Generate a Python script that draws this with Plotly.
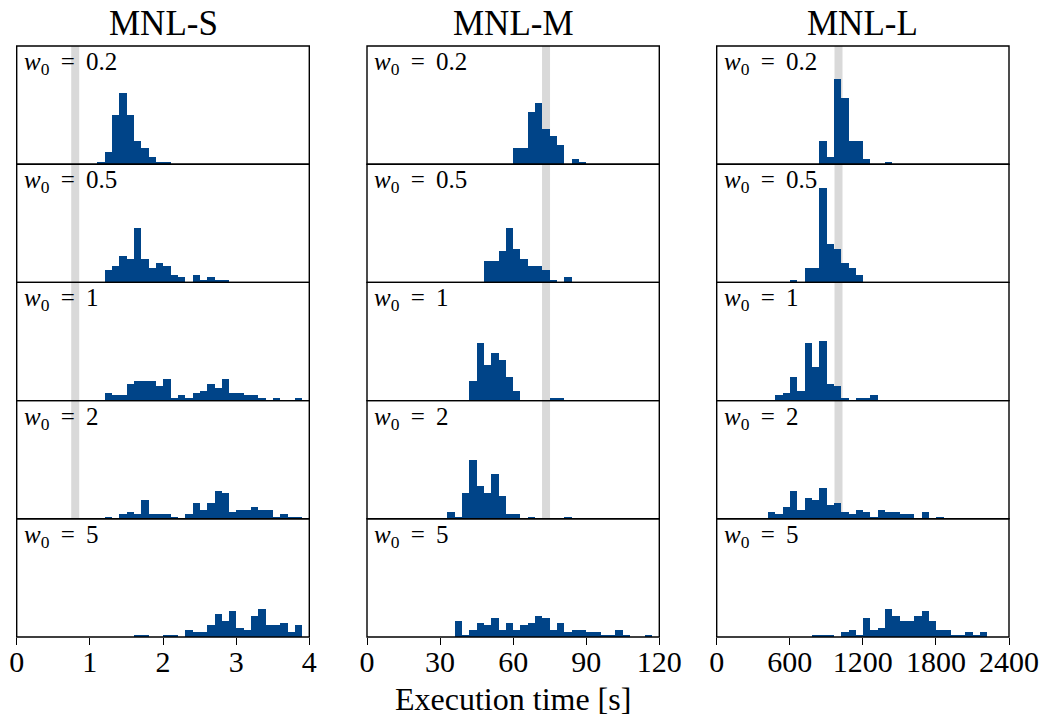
import plotly.graph_objects as go

# ---------------- data ----------------
models = ["MNL-S", "MNL-M", "MNL-L"]
w0_labels = ["0.2", "0.5", "1", "2", "5"]

# histogram bin widths (s) per model
bin_width = [0.1, 3, 60]
# reference (grey) execution time per model
reference_time = [0.8, 73.5, 1000]
# x-axis ranges and ticks per model
x_max = [4, 120, 2400]
x_ticks = [[0, 1, 2, 3, 4], [0, 30, 60, 90, 120], [0, 600, 1200, 1800, 2400]]

# first bin left edge per (model, w0)
s_bin_start = [1.1, 1.2, 1.2, 1.2, 1.2]
m_bin_start = [60, 48, 42, 33, 36]
l_bin_start = [840, 600, 480, 420, 780]

# counts per bin, MNL-S
s_w02 = [1, 5, 21, 30, 21, 10, 7, 3, 1, 1]
s_w05 = [5, 7, 11, 10, 23, 10, 6, 8, 7, 3, 2, 0, 3, 1, 2, 1, 1]
s_w1 = [3, 2, 2, 7, 8, 8, 8, 6, 9, 1, 2, 1, 3, 4, 7, 5, 9, 3, 3, 2, 2, 1, 0, 1, 0, 0, 1]
s_w2 = [1, 0, 2, 3, 2, 8, 2, 2, 2, 1, 0, 2, 7, 4, 7, 12, 11, 3, 4, 4, 5, 4, 4, 1, 2, 1, 1]
s_w5 = [0, 0, 0, 0, 1, 1, 0, 0, 1, 1, 0, 3, 2, 2, 5, 10, 7, 11, 4, 3, 9, 12, 5, 5, 6, 2, 5]

# counts per bin, MNL-M
m_w02 = [7, 7, 22, 26, 15, 12, 8, 0, 2, 1]
m_w05 = [9, 9, 13, 23, 14, 10, 7, 7, 5, 1, 0, 2]
m_w1 = [8, 24, 15, 20, 17, 10, 4, 0, 0, 0, 0, 1, 1]
m_w2 = [3, 1, 11, 25, 14, 11, 19, 10, 2, 2, 0, 1, 0, 0, 0, 0, 1]
m_w5 = [7, 1, 3, 6, 5, 8, 3, 6, 3, 5, 6, 9, 8, 3, 6, 2, 3, 3, 2, 2, 1, 1, 3, 1, 0, 0, 1]

# counts per bin, MNL-L
l_w02 = [10, 3, 36, 28, 10, 10, 2, 0, 0, 1]
l_w05 = [1, 0, 6, 6, 40, 16, 14, 8, 6, 3]
l_w1 = [2, 3, 10, 4, 24, 14, 25, 7, 6, 1, 0, 1, 1, 2]
l_w2 = [3, 2, 5, 12, 4, 9, 8, 13, 6, 7, 3, 2, 4, 3, 1, 4, 3, 3, 2, 2, 0, 3, 0, 1]
l_w5 = [1, 1, 1, 0, 2, 3, 1, 8, 3, 4, 12, 9, 7, 7, 9, 11, 7, 3, 3, 1, 1, 2, 1, 2]

counts = [
    [s_w02, s_w05, s_w1, s_w2, s_w5],
    [m_w02, m_w05, m_w1, m_w2, m_w5],
    [l_w02, l_w05, l_w1, l_w2, l_w5],
]
bin_starts = [s_bin_start, m_bin_start, l_bin_start]
y_max = 50

# ---------------- layout / style ----------------
W, H = 1042, 720
FONT = "Liberation Serif, Times New Roman, serif"
BAR_COLOR = "#004488"
REF_COLOR = "#d9d9d9"

col_px = [(16.7, 309.3), (367.0, 659.3), (716.7, 1009.0)]
row_top, row_h = 46.0, 118.2

fig = go.Figure()
layout = dict(
    width=W, height=H,
    margin=dict(l=0, r=0, t=0, b=0),
    paper_bgcolor="white", plot_bgcolor="white",
    showlegend=False, bargap=0,
    font=dict(family=FONT, color="black"),
)
shapes, annotations = [], []

for r in range(5):
    for c in range(3):
        k = r * 3 + c + 1
        xa = "x" if k == 1 else f"x{k}"
        ya = "y" if k == 1 else f"y{k}"
        ycnt = counts[c][r]
        start = bin_starts[c][r]
        bw = bin_width[c]
        centers = [start + bw * (i + 0.5) for i in range(len(ycnt))]
        fig.add_trace(go.Bar(
            x=centers, y=ycnt, width=[bw] * len(ycnt),
            marker=dict(color=BAR_COLOR, line=dict(width=0)),
            xaxis=xa, yaxis=ya, hoverinfo="x+y",
        ))
        x0p, x1p = col_px[c]
        top = row_top + r * row_h
        bot = top + row_h
        bottom_row = r == 4
        layout["xaxis" if k == 1 else f"xaxis{k}"] = dict(
            domain=[x0p / W, x1p / W], anchor=ya, range=[0, x_max[c]],
            showgrid=False, zeroline=False, showline=False,
            tickvals=x_ticks[c] if bottom_row else [],
            ticks="outside" if bottom_row else "", ticklen=7, tickwidth=1.2, tickcolor="black",
            showticklabels=bottom_row, tickfont=dict(size=30, family=FONT, color="black"),
            ticklabelstandoff=-9,
            automargin=False, fixedrange=True,
        )
        layout["yaxis" if k == 1 else f"yaxis{k}"] = dict(
            domain=[1 - bot / H, 1 - top / H], anchor=xa, range=[0, y_max],
            showgrid=False, zeroline=False, showline=False,
            showticklabels=False, ticks="", automargin=False, fixedrange=True,
        )
        # reference time (grey band)
        shapes.append(dict(
            type="line", xref=xa, yref=f"{ya} domain",
            x0=reference_time[c], x1=reference_time[c], y0=0, y1=1,
            line=dict(color=REF_COLOR, width=8), layer="below",
        ))
        # panel frame
        shapes.append(dict(
            type="rect", xref=f"{xa} domain", yref=f"{ya} domain",
            x0=0, x1=1, y0=0, y1=1,
            line=dict(color="black", width=1.4), fillcolor="rgba(0,0,0,0)", layer="above",
        ))
        annotations.append(dict(
            xref=f"{xa} domain", yref=f"{ya} domain", x=0.018, y=1.0,
            xanchor="left", yanchor="top", showarrow=False,
            text=f"<i>w</i><sub>0</sub>&#8201; = &#8201;{w0_labels[r]}",
            font=dict(size=25, family=FONT, color="black"),
        ))

for c in range(3):
    x0p, x1p = col_px[c]
    annotations.append(dict(
        xref="paper", yref="paper", x=(x0p + x1p) / 2 / W, y=1 - 24 / H,
        xanchor="center", yanchor="middle", showarrow=False,
        text=models[c], font=dict(size=35, family=FONT, color="black"),
    ))

annotations.append(dict(
    xref="paper", yref="paper", x=512.5 / W, y=1 - 699 / H,
    xanchor="center", yanchor="middle", showarrow=False,
    text="Execution time [s]", font=dict(size=32, family=FONT, color="black"),
))

layout["shapes"] = shapes
layout["annotations"] = annotations
fig.update_layout(**layout)
fig.write_html(
    "out.html",
    config={"displayModeBar": False, "staticPlot": False},
    post_script="document.body.style.margin='0';document.body.style.overflow='hidden';",
)
